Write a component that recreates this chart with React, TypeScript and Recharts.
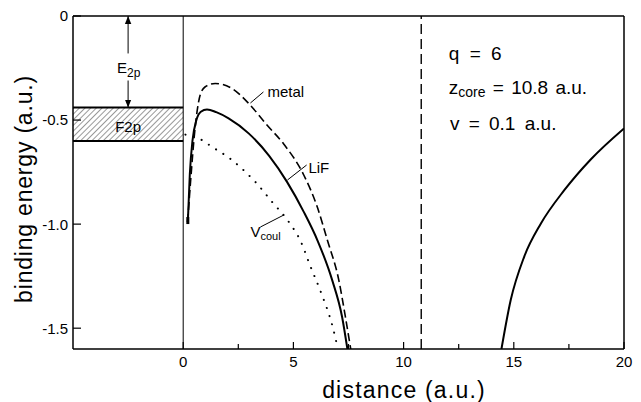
import {
  LineChart,
  Line,
  XAxis,
  YAxis,
  ReferenceLine,
  ReferenceArea,
  ReferenceDot,
} from "recharts";

const FONT = "'Liberation Sans', Arial, sans-serif";

// axes
const xTicks = [0, 2.5, 5, 7.5, 10, 12.5, 15, 17.5, 20];
const xTickLabels = ["0", "", "5", "", "10", "", "15", "", "20"];
const yTicks = [0, -0.5, -1.0, -1.5];
const yTickLabels = ["0", "-0.5", "-1.0", "-1.5"];

// LiF (solid)
const lifDistance = [0.21, 0.3, 0.42, 0.6, 0.8, 1.08, 1.5, 2.06, 2.97, 3.9, 4.71, 5.47, 6.1, 6.76, 7.21, 7.45];
const lifEnergy = [-0.99, -0.76, -0.6, -0.5, -0.46, -0.449, -0.462, -0.492, -0.564, -0.672, -0.797, -0.941, -1.08, -1.269, -1.446, -1.6];

// metal (dashed)
const metalDistance = [0.2, 0.36, 0.5, 0.77, 1.0, 1.45, 2.21, 2.97, 3.8, 4.56, 5.47, 6.08, 6.55, 7.06, 7.36, 7.6];
const metalEnergy = [-0.99, -0.76, -0.58, -0.38, -0.34, -0.324, -0.348, -0.42, -0.524, -0.615, -0.764, -0.917, -1.08, -1.269, -1.446, -1.6];

// V_coul (dotted)
const coulDistance = [0.1, 0.55, 1.3, 2.21, 2.82, 3.27, 4.03, 4.79, 5.32, 5.77, 6.27, 6.79, 7.02];
const coulEnergy = [-0.57, -0.58, -0.628, -0.692, -0.749, -0.797, -0.893, -0.989, -1.08, -1.202, -1.333, -1.497, -1.6];

// right-hand branch (solid)
const outerDistance = [14.44, 14.86, 15.47, 16.23, 17.29, 18.5, 20];
const outerEnergy = [-1.6, -1.365, -1.157, -0.997, -0.837, -0.688, -0.54];

// F2p band and core distance
const f2pTop = -0.44;
const f2pBottom = -0.6;
const zCore = 10.8;

const toPoints = (xs: number[], ys: number[]) => xs.map((x, i) => ({ x, y: ys[i] }));

const lifData = toPoints(lifDistance, lifEnergy);
const metalData = toPoints(metalDistance, metalEnergy);
const coulData = toPoints(coulDistance, coulEnergy);
const outerData = toPoints(outerDistance, outerEnergy);

const XTick = (props: any) => {
  const { x, y, payload } = props;
  const label = xTickLabels[xTicks.indexOf(payload.value)] ?? "";
  const axisY = y - 7;
  const major = label !== "";
  return (
    <g>
      <line x1={x} x2={x} y1={axisY} y2={axisY - (major ? 7 : 5)} stroke="#000" strokeWidth={1.2} />
      {major && (
        <text x={x} y={y} dy="0.74em" textAnchor="middle" fontSize={15} fontFamily={FONT} fill="#000">
          {label}
        </text>
      )}
    </g>
  );
};

const YTick = (props: any) => {
  const { x, y, payload } = props;
  const label = yTickLabels[yTicks.indexOf(payload.value)] ?? "";
  const axisX = x + 5;
  return (
    <g>
      <line x1={axisX} x2={axisX + 8} y1={y} y2={y} stroke="#000" strokeWidth={1.2} />
      <text x={x} y={y} dy="0.36em" textAnchor="end" fontSize={15} fontFamily={FONT} fill="#000">
        {label}
      </text>
    </g>
  );
};

const textShape = (content: any, size = 15, anchor: "start" | "middle" | "end" = "start") => (p: any) => (
  <text x={p.cx} y={p.cy} fontSize={size} fontFamily={FONT} textAnchor={anchor} fill="#000">
    {content}
  </text>
);

const firstDot = (p: any) =>
  p.index === 0 ? (
    <rect key="start" x={p.cx - 1.5} y={p.cy - 5} width={3} height={7} fill="#000" />
  ) : (
    <g key={`d${p.index}`} />
  );

const App = () => {
  return (
    <div style={{ position: "fixed", left: 0, top: 0, background: "#fff" }}>
      <LineChart width={641} height={402} margin={{ top: 16, right: 17, left: 0, bottom: 0 }}>
        <defs>
          <pattern id="hatch" width="4" height="4" patternUnits="userSpaceOnUse" patternTransform="rotate(45)">
            <line x1="0" y1="0" x2="0" y2="4" stroke="#000" strokeWidth="0.8" />
          </pattern>
          <marker id="arrow" viewBox="0 0 10 10" refX="10" refY="5" markerWidth="8" markerHeight="8" markerUnits="userSpaceOnUse" orient="auto-start-reverse">
            <path d="M0,1 L10,5 L0,9 z" fill="#000" />
          </marker>
        </defs>
        <XAxis
          type="number"
          dataKey="x"
          domain={[-5, 20]}
          ticks={xTicks}
          allowDataOverflow
          interval={0}
          height={53}
          tickSize={0}
          tickMargin={7}
          tickLine={false}
          axisLine={{ stroke: "#000", strokeWidth: 1.5 }}
          tick={<XTick />}
          label={{
            position: "insideBottom",
            content: (p: any) => (
              <text
                x={404}
                y={398}
                textAnchor="middle"
                fontSize={23}
                letterSpacing={1.2}
                fontFamily={FONT}
                fill="#000"
              >
                distance (a.u.)
              </text>
            ),
          }}
        />
        <YAxis
          type="number"
          dataKey="y"
          domain={[-1.6, 0]}
          ticks={yTicks}
          allowDataOverflow
          interval={0}
          width={73}
          tickSize={0}
          tickMargin={5}
          tickLine={false}
          axisLine={{ stroke: "#000", strokeWidth: 1.5 }}
          tick={<YTick />}
          label={{
            position: "insideLeft",
            content: (p: any) => (
              <text
                x={24}
                y={189}
                transform="rotate(-90, 24, 189)"
                textAnchor="middle"
                dominantBaseline="central"
                fontSize={23}
                letterSpacing={0.8}
                fontFamily={FONT}
                fill="#000"
              >
                binding energy (a.u.)
              </text>
            ),
          }}
        />

        {/* frame */}
        <ReferenceLine y={0} stroke="#000" strokeWidth={1.5} />
        <ReferenceLine x={20} stroke="#000" strokeWidth={1.5} />
        <ReferenceLine x={0} stroke="#000" strokeWidth={1} />
        <ReferenceLine x={zCore} stroke="#000" strokeWidth={1.4} strokeDasharray="10 5" />

        {/* F2p band */}
        <ReferenceArea x1={-5} x2={0} y1={f2pBottom} y2={f2pTop} fill="url(#hatch)" fillOpacity={1} stroke="none" />
        <ReferenceLine segment={[{ x: -5, y: f2pTop }, { x: 0, y: f2pTop }]} stroke="#000" strokeWidth={2} />
        <ReferenceLine segment={[{ x: -5, y: f2pBottom }, { x: 0, y: f2pBottom }]} stroke="#000" strokeWidth={2} />
        <ReferenceDot x={-2.5} y={-0.558} r={0} shape={textShape("F2p", 15, "middle")} />

        {/* E2p arrow */}
        <ReferenceLine
          segment={[{ x: -2.5, y: -0.18 }, { x: -2.5, y: 0 }]}
          stroke="#000"
          strokeWidth={1}
          markerEnd="url(#arrow)"
        />
        <ReferenceLine
          segment={[{ x: -2.5, y: -0.31 }, { x: -2.5, y: f2pTop }]}
          stroke="#000"
          strokeWidth={1}
          markerEnd="url(#arrow)"
        />
        <ReferenceDot
          x={-3.0}
          y={-0.274}
          r={0}
          shape={textShape(
            <>
              E<tspan fontSize={12} dy={4}>2p</tspan>
            </>,
            15
          )}
        />

        {/* curves */}
        <Line data={metalData} dataKey="y" type="monotone" stroke="#000" strokeWidth={1.6} strokeDasharray="8 4" dot={false} isAnimationActive={false} />
        <Line data={coulData} dataKey="y" type="monotone" stroke="#000" strokeWidth={2} strokeDasharray="0.1 8.5" strokeLinecap="round" dot={false} isAnimationActive={false} />
        <Line data={lifData} dataKey="y" type="monotone" stroke="#000" strokeWidth={2} dot={firstDot} isAnimationActive={false} />
        <Line data={outerData} dataKey="y" type="monotone" stroke="#000" strokeWidth={2} dot={false} isAnimationActive={false} />

        {/* curve labels */}
        <ReferenceLine segment={[{ x: 3.05, y: -0.418 }, { x: 3.64, y: -0.365 }]} stroke="#000" strokeWidth={1} />
        <ReferenceDot x={3.82} y={-0.39} r={0} shape={textShape("metal", 15)} />
        <ReferenceLine segment={[{ x: 4.73, y: -0.788 }, { x: 5.6, y: -0.716 }]} stroke="#000" strokeWidth={1} />
        <ReferenceDot x={5.68} y={-0.755} r={0} shape={textShape("LiF", 15)} />
        <ReferenceLine segment={[{ x: 3.5, y: -1.014 }, { x: 4.55, y: -0.957 }]} stroke="#000" strokeWidth={1} />
        <ReferenceDot
          x={3.05}
          y={-1.062}
          r={0}
          shape={textShape(
            <>
              V<tspan fontSize={11} dy={3}>coul</tspan>
            </>,
            15
          )}
        />

        {/* parameters */}
        <ReferenceDot x={12.05} y={-0.212} r={0} shape={(p: any) => (
          <text x={p.cx} y={p.cy} fontSize={19} fontFamily={FONT} fill="#000" wordSpacing={5}>
            q = 6
          </text>
        )} />
        <ReferenceDot x={12.05} y={-0.375} r={0} shape={(p: any) => (
          <text x={p.cx} y={p.cy} fontSize={19} fontFamily={FONT} fill="#000" wordSpacing={2}>
            z<tspan fontSize={14} dy={3}>core</tspan>
            <tspan dy={-3}> = 10.8 a.u.</tspan>
          </text>
        )} />
        <ReferenceDot x={12.1} y={-0.548} r={0} shape={(p: any) => (
          <text x={p.cx} y={p.cy} fontSize={19} fontFamily={FONT} fill="#000" wordSpacing={4}>
            v = 0.1 a.u.
          </text>
        )} />
      </LineChart>
    </div>
  );
};

export default App;
